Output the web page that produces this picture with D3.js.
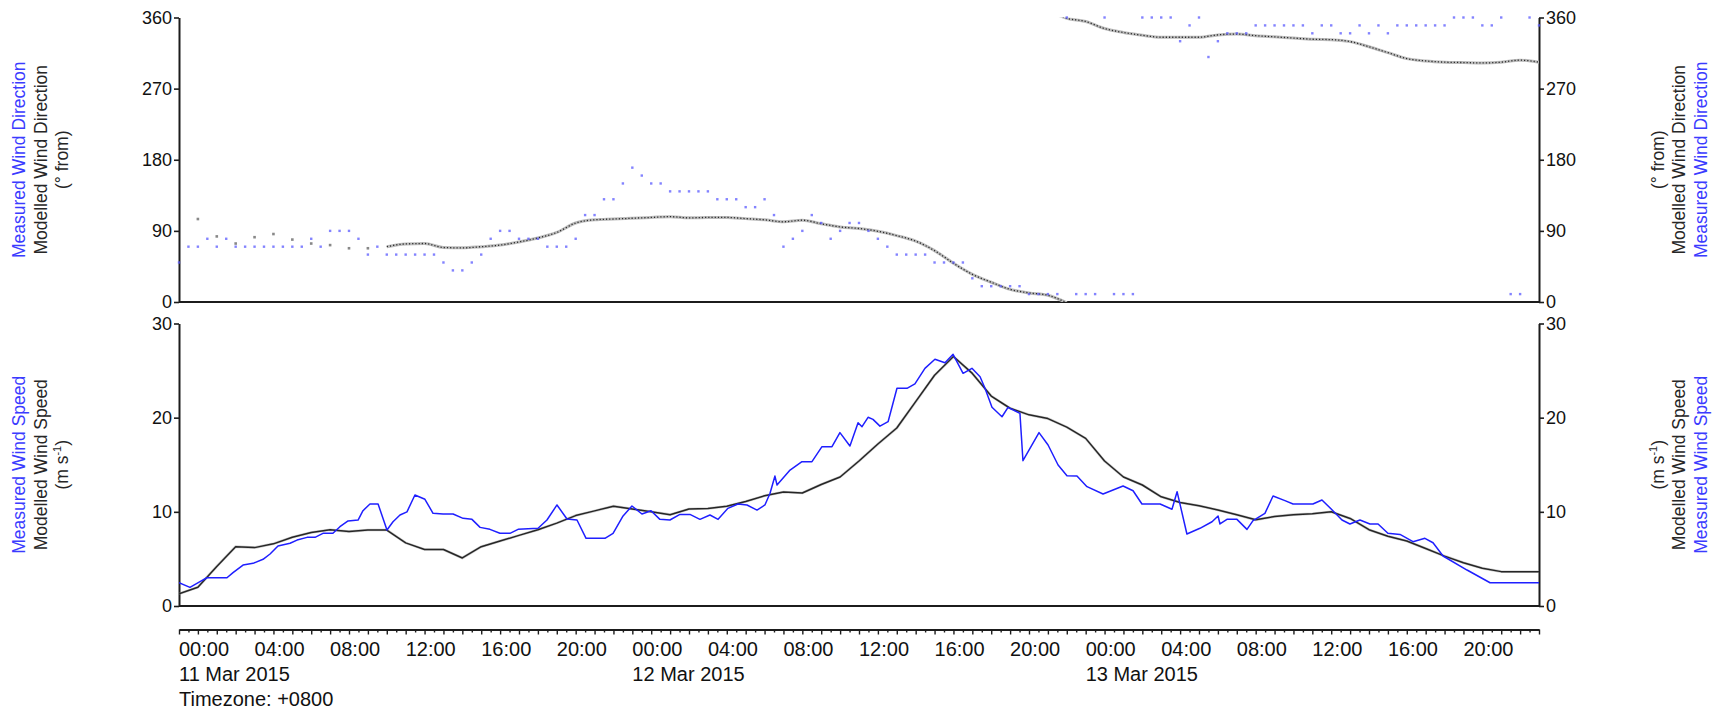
<!DOCTYPE html>
<html>
<head>
<meta charset="utf-8">
<script src="https://cdn.jsdelivr.net/npm/d3@7"></script>
<style>
  html, body { margin: 0; padding: 0; background: #ffffff; }
  svg text { font-family: "Liberation Sans", Arial, Helvetica, sans-serif; }
</style>
</head>
<body>
<svg id="chart" width="1718" height="710"></svg>
<script>
// ---------- data (times are hours after 11 Mar 2015 00:00, +0800) ----------

// Measured wind direction, every 30 minutes (degrees from)
const measuredDir = [
  50, 70, 70, 80, 70, 80, 70, 70, 70, 70,
  70, 70, 70, 70, 80, 70, 90, 90, 90, 80,
  60, 70, 60, 60, 60, 60, 60, 60, 50, 40,
  40, 50, 60, 80, 90, 90, 80, 80, 80, 70,
  70, 70, 80, 110, 110, 130, 130, 150, 170, 160,
  150, 150, 140, 140, 140, 140, 140, 130, 130, 130,
  120, 120, 130, 110, 70, 80, 90, 110, 100, 80,
  90, 100, 100, 90, 80, 70, 60, 60, 60, 60,
  50, 50, 50, 50, 30, 20, 20, 20, 20, 20,
  10, 10, 10, 10, 360, 10, 10, 10, 360, 10,
  10, 10, 360, 360, 360, 360, 330, 350, 360, 310,
  330, 340, 340, 340, 350, 350, 350, 350, 350, 350,
  340, 350, 350, 340, 340, 350, 340, 350, 340, 350,
  350, 350, 350, 350, 350, 360, 360, 360, 350, 350,
  360, 10, 10, 360, 350
];
const measuredDirStep = 0.5; // hours between measured direction samples

// Modelled wind direction, isolated hourly values (hours 1-10)
const modelledDirEarlyHours = [1, 2, 3, 4, 5, 6, 7, 8, 9, 10];
const modelledDirEarly = [105, 83, 74, 82, 86, 79, 74, 72, 68, 68];

// Modelled wind direction, continuous hourly run (hours 11-72)
const modelledDirStart = 11;
const modelledDir = [
  70, 73.5, 74, 69, 68.5, 70, 72, 76, 81, 88,
  100, 104, 105, 106, 107, 108, 106.5, 107, 107, 105.5,
  104, 101.5, 103.5, 99, 95, 93, 89.5, 84, 77, 65,
  49, 35, 25, 16, 11.5, 8.5, 359, 355, 346, 341,
  337.5, 335, 335, 335, 338, 339, 337, 335.5, 334, 332.5,
  332, 329.5, 323, 315.5, 308, 305, 303.5, 303, 302.5, 303.5,
  306, 303.5
];

// Modelled wind speed, hourly (m s-1), hours 0-72
const modelledSpeed = [
  1.3, 2.0, 4.2, 6.3, 6.2, 6.6, 7.3, 7.8, 8.1, 7.9,
  8.07, 8.07, 6.7, 6.0, 6.0, 5.1, 6.3, 6.9, 7.5, 8.1,
  8.8, 9.6, 10.1, 10.6, 10.3, 10.0, 9.7, 10.3, 10.35, 10.6,
  11.1, 11.7, 12.1, 12.0, 12.9, 13.7, 15.4, 17.2, 18.9, 21.7,
  24.5, 26.5, 24.7, 22.3, 21.0, 20.3, 19.9, 19.0, 17.8, 15.4,
  13.7, 12.85, 11.6, 11.0, 10.65, 10.2, 9.7, 9.15, 9.5, 9.7,
  9.8, 10.0, 9.3, 8.1, 7.4, 6.9, 6.1, 5.3, 4.6, 4.0,
  3.65, 3.64, 3.64
];

// Measured wind speed (m s-1) and the hour of each reading
const measuredSpeedHours = [
  0, 0.58, 1.11, 1.48, 2.54, 2.86, 3.39, 3.92, 4.45, 4.82,
  5.24, 5.88, 6.25, 6.78, 7.2, 7.62, 8.15, 8.52, 8.95, 9.48,
  9.74, 10.11, 10.54, 11.01, 11.33, 11.7, 12.07, 12.49, 13.02, 13.45,
  13.98, 14.51, 15.04, 15.51, 15.94, 16.46, 16.99, 17.52, 17.95, 19.01,
  19.48, 20.01, 20.54, 21.07, 21.55, 22.55, 22.98, 23.51, 23.98, 24.51,
  24.99, 25.46, 25.99, 26.52, 27.05, 27.58, 28.11, 28.54, 29.06, 29.59,
  30.07, 30.6, 31.02, 31.29, 31.55, 31.66, 32.35, 32.98, 33.51, 34.04,
  34.57, 34.99, 35.52, 35.95, 36.16, 36.48, 36.74, 37.11, 37.54, 38.01,
  38.54, 38.96, 39.49, 40.02, 40.55, 40.98, 41.51, 41.98, 42.41, 42.67,
  43.04, 43.57, 43.89, 44.52, 44.68, 45.53, 46.01, 46.54, 47.01, 47.54,
  48.07, 48.92, 49.98, 50.51, 50.98, 51.94, 52.57, 52.84, 53.36, 54.05,
  54.69, 55.01, 55.11, 55.48, 56.01, 56.54, 56.86, 57.49, 57.92, 58.55,
  58.98, 60.03, 60.51, 61.09, 61.57, 61.99, 62.52, 63.05, 63.48, 64.0,
  64.64, 65.33, 65.96, 66.39, 66.92, 68.19, 69.41, 72.0
];
const measuredSpeed = [
  2.47, 1.98, 2.58, 3.0, 3.0, 3.54, 4.35, 4.53, 4.96, 5.52,
  6.37, 6.66, 7.0, 7.29, 7.29, 7.72, 7.72, 8.42, 9.03, 9.13,
  10.12, 10.83, 10.83, 8.07, 8.95, 9.66, 10.0, 11.79, 11.33, 9.84,
  9.77, 9.77, 9.31, 9.2, 8.35, 8.14, 7.72, 7.72, 8.14, 8.25,
  9.13, 10.73, 9.24, 9.13, 7.19, 7.19, 7.72, 9.56, 10.62, 9.77,
  10.12, 9.2, 9.13, 9.73, 9.73, 9.2, 9.66, 9.2, 10.37, 10.83,
  10.73, 10.19, 10.73, 11.97, 13.8, 12.85, 14.44, 15.33, 15.33, 16.92,
  16.92, 18.41, 16.99, 19.47, 19.04, 20.04, 19.82, 19.1, 19.57, 23.12,
  23.12, 23.58, 25.24, 26.2, 25.84, 26.73, 24.71, 25.24, 24.35, 23.12,
  21.1, 20.1, 21.1, 20.46, 15.43, 18.41, 17.1, 14.97, 13.84, 13.8,
  12.67, 11.89, 12.74, 12.24, 10.83, 10.83, 10.27, 12.14, 7.65, 8.25,
  8.95, 9.56, 8.71, 9.2, 9.2, 8.14, 9.06, 9.84, 11.68, 11.19,
  10.83, 10.83, 11.26, 10.12, 9.13, 8.71, 9.13, 8.71, 8.71, 7.72,
  7.6, 6.83, 7.19, 6.72, 5.31, 3.82, 2.47, 2.47
];

// Axis ticks and labels
const dirTicks = [0, 90, 180, 270, 360];
const speedTicks = [0, 10, 20, 30];
const labelEveryHours = 4;
const minorTickMinutes = 30;
const timezoneLabel = "Timezone: +0800";
const dirTitles = ["Measured Wind Direction", "Modelled Wind Direction", "(\u00B0 from)"];
const speedTitles = ["Measured Wind Speed", "Modelled Wind Speed"];

// ---------- layout ----------
const xLeft = 179, xRight = 1539;
const dirTop = 17.5, dirBottom = 302;
const spdTop = 323.5, spdBottom = 606;
const timeAxisY = 629.5;

const measuredColor = "#1f1fff";
const measuredText = "#3b3bff";
const modelledColor = "#262626";
const axisColor = "#1c1c1c";

const HOUR = 3600e3;
const t0 = Date.UTC(2015, 2, 11, 0, 0);
const tEnd = t0 + 72 * HOUR;
const hToDate = h => new Date(t0 + h * HOUR);

const x = d3.scaleUtc().domain([new Date(t0), new Date(tEnd)]).range([xLeft, xRight]);
const yDir = d3.scaleLinear().domain([0, 360]).range([dirBottom, dirTop]);
const ySpd = d3.scaleLinear().domain([0, 30]).range([spdBottom, spdTop]);

const svg = d3.select("#chart");

// clip regions: the direction line is cut exactly at 0 and 360 where it wraps
const defs = svg.append("defs");
defs.append("clipPath").attr("id", "clip-dir-line").append("rect")
  .attr("x", xLeft).attr("y", dirTop).attr("width", xRight - xLeft).attr("height", dirBottom - dirTop);
defs.append("clipPath").attr("id", "clip-dir").append("rect")
  .attr("x", xLeft - 2).attr("y", dirTop - 3).attr("width", xRight - xLeft + 4).attr("height", dirBottom - dirTop + 3);
defs.append("clipPath").attr("id", "clip-spd").append("rect")
  .attr("x", xLeft).attr("y", spdTop - 4).attr("width", xRight - xLeft).attr("height", spdBottom - spdTop + 4);

// ---------- panel frames and value axes ----------
function styleAxis(g) {
  g.select(".domain").attr("stroke", axisColor).attr("stroke-width", 2);
  g.selectAll(".tick line").attr("stroke", axisColor).attr("stroke-width", 1.6);
  g.selectAll(".tick text").attr("fill", "#111").attr("font-size", 18)
    .attr("font-family", '"Liberation Sans", Arial, sans-serif');
}

function drawPanel(y, ticks, bottom) {
  svg.append("g").attr("transform", `translate(${xLeft},0)`)
    .call(d3.axisLeft(y).tickValues(ticks).tickSize(5).tickSizeOuter(0).tickPadding(2))
    .call(styleAxis);
  svg.append("g").attr("transform", `translate(${xRight},0)`)
    .call(d3.axisRight(y).tickValues(ticks).tickSize(5).tickSizeOuter(0).tickPadding(2))
    .call(styleAxis);
  svg.append("line")
    .attr("x1", xLeft).attr("x2", xRight).attr("y1", bottom).attr("y2", bottom)
    .attr("stroke", axisColor).attr("stroke-width", 2);
}
drawPanel(yDir, dirTicks, dirBottom);
drawPanel(ySpd, speedTicks, spdBottom);

// ---------- wind direction panel ----------
const dirLineLayer = svg.append("g").attr("clip-path", "url(#clip-dir-line)");
const dirLayer = svg.append("g").attr("clip-path", "url(#clip-dir)");

// modelled direction: continuous run split where it wraps through north
const runPts = modelledDir.map((v, i) => ({ h: modelledDirStart + i, v }));
const segments = [[runPts[0]]];
for (let i = 1; i < runPts.length; i++) {
  const a = runPts[i - 1], b = runPts[i];
  const d = b.v - a.v;
  if (Math.abs(d) > 180) {
    const shift = d > 0 ? -360 : 360;
    segments[segments.length - 1].push({ h: b.h, v: b.v + shift });
    segments.push([{ h: a.h, v: a.v - shift }, b]);
  } else {
    segments[segments.length - 1].push(b);
  }
}
const dirLine = d3.line().x(p => x(hToDate(p.h))).y(p => yDir(p.v)).curve(d3.curveMonotoneX);
segments.forEach(seg => {
  dirLineLayer.append("path").attr("d", dirLine(seg))
    .attr("fill", "none").attr("stroke", "#bcbcbc").attr("stroke-width", 3);
  dirLineLayer.append("path").attr("d", dirLine(seg))
    .attr("fill", "none").attr("stroke", "#2a2a2a").attr("stroke-width", 1.3)
    .attr("stroke-dasharray", "1.2 2");
});

// modelled direction: isolated early values
dirLayer.selectAll("rect.mod-early")
  .data(modelledDirEarly)
  .join("rect").attr("class", "mod-early")
  .attr("x", (v, i) => x(hToDate(modelledDirEarlyHours[i])) - 1.3)
  .attr("y", v => yDir(v) - 1.3)
  .attr("width", 2.6).attr("height", 2.6)
  .attr("fill", "#555").attr("opacity", 0.7);

// measured direction points
dirLayer.selectAll("rect.meas")
  .data(measuredDir)
  .join("rect").attr("class", "meas")
  .attr("x", (v, i) => x(hToDate(i * measuredDirStep)) - 1.2)
  .attr("y", v => yDir(v) - 1.2)
  .attr("width", 2.4).attr("height", 2.4)
  .attr("fill", "#5a5aff").attr("opacity", 0.75);

// ---------- wind speed panel ----------
const spdLayer = svg.append("g").attr("clip-path", "url(#clip-spd)");
const modSpeedLine = d3.line()
  .x((v, i) => x(hToDate(i)))
  .y(v => ySpd(v));
spdLayer.append("path").attr("d", modSpeedLine(modelledSpeed))
  .attr("fill", "none").attr("stroke", "#9a9a9a").attr("stroke-width", 2.6).attr("opacity", 0.5);
spdLayer.append("path").attr("d", modSpeedLine(modelledSpeed))
  .attr("fill", "none").attr("stroke", modelledColor).attr("stroke-width", 1.5)
  .attr("stroke-linejoin", "round");

const measSpeedLine = d3.line()
  .x((v, i) => x(hToDate(measuredSpeedHours[i])))
  .y(v => ySpd(v));
spdLayer.append("path").attr("d", measSpeedLine(measuredSpeed))
  .attr("fill", "none").attr("stroke", measuredColor).attr("stroke-width", 1.5)
  .attr("stroke-linejoin", "round");

// ---------- time axis ----------
const minorTicks = d3.utcMinute.every(minorTickMinutes).range(new Date(t0), new Date(tEnd + 1));
const timeAxis = svg.append("g").attr("transform", `translate(0,${timeAxisY})`)
  .call(d3.axisBottom(x).tickValues(minorTicks).tickSize(4).tickSizeOuter(0).tickFormat(""));
timeAxis.select(".domain").attr("stroke", axisColor).attr("stroke-width", 2);
timeAxis.selectAll(".tick line")
  .attr("stroke", axisColor).attr("stroke-width", 1.4)
  .attr("y2", d => d.getUTCMinutes() === 0 ? 5 : 3);

const labelTimes = d3.utcHour.every(labelEveryHours).range(new Date(t0), new Date(tEnd));
const fmtTime = d3.utcFormat("%H:%M");
svg.append("g").selectAll("text")
  .data(labelTimes)
  .join("text")
  .attr("x", d => x(d))
  .attr("y", 656)
  .attr("font-size", 20)
  .attr("fill", "#111")
  .text(d => fmtTime(d));

const dayStarts = d3.utcDay.range(new Date(t0), new Date(tEnd));
const fmtDay = d3.utcFormat("%-d %b %Y");
svg.append("g").selectAll("text")
  .data(dayStarts)
  .join("text")
  .attr("x", d => x(d))
  .attr("y", 681)
  .attr("font-size", 20)
  .attr("fill", "#111")
  .text(d => fmtDay(d));

svg.append("text").attr("x", xLeft).attr("y", 706)
  .attr("font-size", 20).attr("fill", "#111").text(timezoneLabel);

// ---------- axis titles (rotated) ----------
function titleLine(xBase, yCenter, content, color) {
  const t = svg.append("text")
    .attr("transform", `translate(${xBase},${yCenter}) rotate(-90)`)
    .attr("text-anchor", "middle")
    .attr("font-size", 17.5)
    .attr("fill", color);
  if (typeof content === "string") t.text(content);
  else content(t);
  return t;
}
function speedUnit(t) {
  t.append("tspan").text("(m s");
  t.append("tspan").attr("font-size", 11).attr("dy", -7).text("-1");
  t.append("tspan").attr("dy", 7).text(")");
}

const dirMid = (dirTop + dirBottom) / 2;
const spdMid = (spdTop + spdBottom) / 2;

// left side
titleLine(25, dirMid, dirTitles[0], measuredText);
titleLine(47, dirMid, dirTitles[1], modelledColor);
titleLine(68, dirMid, dirTitles[2], modelledColor);
titleLine(25, spdMid, speedTitles[0], measuredText);
titleLine(47, spdMid, speedTitles[1], modelledColor);
titleLine(68, spdMid, speedUnit, modelledColor);

// right side (mirrored order)
titleLine(1664, dirMid, dirTitles[2], modelledColor);
titleLine(1685, dirMid, dirTitles[1], modelledColor);
titleLine(1707, dirMid, dirTitles[0], measuredText);
titleLine(1664, spdMid, speedUnit, modelledColor);
titleLine(1685, spdMid, speedTitles[1], modelledColor);
titleLine(1707, spdMid, speedTitles[0], measuredText);
</script>
</body>
</html>
